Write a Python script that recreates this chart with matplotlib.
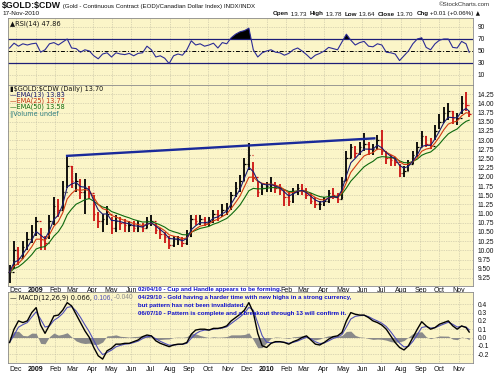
import matplotlib
matplotlib.use("Agg")
import matplotlib.pyplot as plt
import pandas as pd
import numpy as np

# ---------------- data (weekly readings from the chart) ----------------
week_dates = list(pd.date_range("2008-11-21", periods=104, freq="7D")) + [pd.Timestamp("2010-11-17")]

close_vals = [9.40, 10.00, 9.80, 10.10, 10.30, 10.50, 10.80, 10.30, 10.20, 10.80,
              11.20, 11.10, 11.60, 12.30, 11.90, 11.90, 11.60, 11.70, 11.55, 11.00,
              10.80, 10.85, 11.00, 10.60, 10.80, 10.75, 10.70, 10.70, 10.60, 10.65,
              10.60, 10.80, 10.80, 10.55, 10.45, 10.35, 10.15, 10.30, 10.30, 10.20,
              10.40, 10.85, 10.80, 10.85, 10.75, 10.80, 11.00, 10.95, 11.10, 11.15,
              11.50, 11.70, 11.90, 12.35, 12.60, 12.00, 11.60, 11.70, 11.75, 11.80,
              11.70, 11.65, 11.45, 11.35, 11.60, 11.70, 11.65, 11.50, 11.35, 11.25,
              11.25, 11.35, 11.55, 11.50, 11.40, 11.90, 12.50, 12.80, 12.65, 12.80,
              12.90, 12.75, 12.75, 13.00, 12.70, 12.50, 12.45, 12.40, 12.10, 12.15,
              12.35, 12.60, 12.80, 13.10, 12.90, 12.85, 13.25, 13.50, 13.75, 13.80,
              13.60, 13.60, 14.00, 13.95, 13.70]

high_vals = [9.60, 10.25, 10.10, 10.25, 10.50, 10.70, 10.90, 10.60, 10.40, 10.95,
             11.45, 11.40, 11.90, 12.55, 12.30, 12.10, 11.95, 11.95, 11.75, 11.50,
             11.05, 11.00, 11.20, 10.90, 10.95, 10.90, 10.85, 10.80, 10.80, 10.80,
             10.75, 10.90, 10.95, 10.75, 10.60, 10.50, 10.40, 10.40, 10.40, 10.35,
             10.55, 10.95, 10.95, 10.95, 10.90, 10.90, 11.10, 11.10, 11.25, 11.30,
             11.60, 11.85, 12.05, 12.50, 12.92, 12.40, 11.90, 11.80, 11.85, 12.00,
             11.85, 11.80, 11.65, 11.60, 11.70, 11.80, 11.80, 11.70, 11.55, 11.45,
             11.35, 11.45, 11.65, 11.70, 11.55, 12.00, 12.70, 12.90, 12.85, 12.95,
             13.20, 12.95, 12.90, 13.15, 13.27, 12.70, 12.60, 12.55, 12.35, 12.30,
             12.45, 12.70, 12.95, 13.25, 13.10, 13.05, 13.40, 13.70, 13.90, 14.00,
             13.80, 13.75, 14.20, 14.30, 13.78]

low_vals = [9.10, 9.50, 9.60, 9.80, 10.00, 10.20, 10.40, 10.00, 10.00, 10.30,
            10.70, 10.90, 11.10, 11.70, 11.70, 11.60, 11.40, 11.00, 11.40, 10.80,
            10.60, 10.50, 10.70, 10.45, 10.50, 10.55, 10.50, 10.50, 10.50, 10.50,
            10.50, 10.60, 10.65, 10.45, 10.30, 10.20, 10.05, 10.10, 10.15, 10.10,
            10.15, 10.35, 10.70, 10.70, 10.65, 10.65, 10.75, 10.80, 10.90, 10.95,
            11.10, 11.45, 11.60, 11.90, 12.20, 11.85, 11.45, 11.50, 11.60, 11.60,
            11.55, 11.50, 11.20, 11.20, 11.30, 11.50, 11.50, 11.40, 11.25, 11.15,
            11.10, 11.20, 11.30, 11.40, 11.30, 11.40, 11.90, 12.50, 12.50, 12.60,
            12.70, 12.60, 12.60, 12.75, 12.60, 12.35, 12.30, 12.30, 12.00, 12.00,
            12.15, 12.35, 12.55, 12.80, 12.80, 12.75, 13.00, 13.30, 13.50, 13.55,
            13.45, 13.40, 13.70, 13.80, 13.64]

rsi_vals = [55, 63, 58, 62, 60, 62, 63, 48, 52, 62,
            64, 60, 65, 70, 55, 54, 48, 52, 50, 42,
            37, 45, 47, 40, 47, 45, 44, 46, 42, 46,
            47, 58, 52, 40, 42, 38, 29, 42, 45, 43,
            52, 67, 60, 62, 58, 60, 63, 55, 64, 62,
            72, 78, 82, 84, 88, 52, 40, 47, 50, 52,
            48, 47, 43, 46, 52, 55, 50, 44, 37, 43,
            46, 50, 56, 54, 52, 65, 78, 68, 60, 64,
            66, 58, 57, 62, 60, 48, 47, 45, 34, 42,
            50, 62, 70, 72, 56, 52, 62, 68, 70, 70,
            56, 55, 66, 62, 47.86]

macd_vals = [-0.06, 0.10, 0.20, 0.18, 0.20, 0.30, 0.36, 0.15, 0.05, 0.15,
             0.26, 0.27, 0.33, 0.42, 0.38, 0.28, 0.18, 0.08, 0.00, -0.12,
             -0.22, -0.26, -0.16, -0.13, -0.08, -0.08, -0.07, -0.07, -0.05, -0.03,
             0.01, 0.03, 0.02, -0.04, -0.07, -0.09, -0.11, -0.09, -0.08, -0.08,
             -0.06, 0.04, 0.09, 0.10, 0.10, 0.09, 0.11, 0.11, 0.12, 0.14,
             0.20, 0.24, 0.28, 0.33, 0.42, 0.30, 0.05, -0.10, -0.12, -0.07,
             -0.05, -0.05, -0.06, -0.08, -0.05, -0.03, 0.00, 0.02, -0.03, -0.08,
             -0.09, -0.06, -0.02, 0.01, 0.02, 0.06, 0.20, 0.30, 0.28, 0.27,
             0.27, 0.24, 0.20, 0.18, 0.15, 0.10, 0.02, -0.06, -0.12, -0.15,
             -0.10, 0.00, 0.10, 0.19, 0.14, 0.10, 0.12, 0.16, 0.18, 0.20,
             0.14, 0.10, 0.14, 0.12, 0.066]

trend_dates = [pd.Timestamp("2009-02-18"), pd.Timestamp("2010-06-22")]
trend_vals = [12.57, 13.05]

month_ticks = pd.date_range("2008-12-01", periods=24, freq="MS")
month_labels = ["Dec", "2009", "Feb", "Mar", "Apr", "May", "Jun", "Jul", "Aug", "Sep", "Oct", "Nov",
                "Dec", "2010", "Feb", "Mar", "Apr", "May", "Jun", "Jul", "Aug", "Sep", "Oct", "Nov"]
# labels of the price panel that sit under the first note line are hidden in the reference
hidden_price_labels = set(range(7, 14))

rsi_ticks = [10, 30, 50, 70, 90]
price_ticks = [9.25, 9.50, 9.75, 10.00, 10.25, 10.50, 10.75, 11.00, 11.25, 11.50, 11.75, 12.00,
               12.25, 12.50, 12.75, 13.00, 13.25, 13.50, 13.75, 14.00, 14.25]
macd_ticks = [-0.2, -0.1, 0.0, 0.1, 0.2, 0.3, 0.4]

notes = ["02/04/10 - Cup and Handle appears to be forming.",
         "04/29/10 - Gold having a harder time with new highs in a strong currency,",
         "but pattern has not been invalidated.",
         "06/07/10 - Pattern is complete and a breakout through 13 will confirm it."]

# ---------------- derived indicators ----------------
close_s = pd.Series(close_vals)
ema13 = close_s.ewm(span=1 + 12 / 5, adjust=False).mean()
ema25 = close_s.ewm(span=1 + 24 / 5, adjust=False).mean()
ema50 = close_s.ewm(span=1 + 49 / 5, adjust=False).mean()
macd_s = pd.Series(macd_vals)
signal = macd_s.ewm(span=1 + 8 / 5, adjust=False).mean()
hist = macd_s - signal

# ---------------- styling ----------------
NARROW = ["Liberation Sans Narrow", "Liberation Sans", "DejaVu Sans"]
plt.rcParams["font.family"] = NARROW
BG = "#FBF5C8"
GRID = "#BDB9A0"
INK = "#111111"
W, H = 500, 374

fig = plt.figure(figsize=(W / 100, H / 100), dpi=100)
fig.patch.set_facecolor("white")


def rect(l, t, r, b):
    return [l / W, 1 - b / H, (r - l) / W, (b - t) / H]


xlim = (pd.Timestamp("2008-11-18 12:00"), pd.Timestamp("2010-11-23"))


def style(ax, yt, fmt):
    ax.set_facecolor(BG)
    ax.set_xlim(*xlim)
    ax.set_xticks(month_ticks)
    ax.set_yticks(yt)
    ax.set_yticklabels([fmt % v for v in yt])
    ax.yaxis.tick_right()
    ax.tick_params(axis="y", length=0, pad=3.5, labelsize=4.8, colors=INK)
    ax.tick_params(axis="x", length=0)
    ax.grid(True, color=GRID, linestyle=(0, (1, 1.5)), linewidth=0.5)
    ax.set_axisbelow(True)
    for s in ax.spines.values():
        s.set_color("#8A8A8A")
        s.set_linewidth(0.6)


def xlabels(ax, pad, hidden=()):
    labels = ["" if i in hidden else t for i, t in enumerate(month_labels)]
    ax.set_xticklabels(labels, fontsize=5.0)
    for lbl, txt in zip(ax.get_xticklabels(), labels):
        if txt.isdigit():
            lbl.set_fontweight("bold")
    ax.tick_params(axis="x", pad=pad, colors=INK)


# ---- RSI panel ----
ax_rsi = fig.add_axes(rect(8, 18, 473, 85))
style(ax_rsi, rsi_ticks, "%d")
ax_rsi.set_ylim(-6.7, 105)
ax_rsi.tick_params(axis="x", labelbottom=False)
rsi_arr = np.array(rsi_vals, dtype=float)
ax_rsi.axhline(70, color="#1E1E78", lw=0.9)
ax_rsi.axhline(30, color="#1E1E78", lw=0.9)
ax_rsi.axhline(50, color="black", lw=0.7, ls=(0, (4, 2, 1, 2)))
ax_rsi.fill_between(week_dates, rsi_arr, 70, where=rsi_arr > 70, interpolate=True, color="black", lw=0)
ax_rsi.fill_between(week_dates, rsi_arr, 30, where=rsi_arr < 30, interpolate=True, color="black", lw=0)
ax_rsi.plot(week_dates, rsi_arr, color="#2B2B95", lw=0.8)
ax_rsi.text(0.004, 0.97, "\u25B2RSI(14) 47.86", transform=ax_rsi.transAxes, fontsize=4.8,
            va="top", ha="left", family=["Liberation Sans Narrow", "DejaVu Sans"], color=INK)

# ---- Price panel ----
ax_px = fig.add_axes(rect(8, 85, 473, 286))
style(ax_px, price_ticks, "%.2f")
ax_px.set_ylim(9.03, 14.5)
xlabels(ax_px, 1.0, hidden_price_labels)
prev = [close_vals[0]] + close_vals[:-1]
bar_cols = ["black" if c >= p else "#CC1111" for c, p in zip(close_vals, prev)]
ax_px.vlines(week_dates, low_vals, high_vals, colors=bar_cols, lw=1.3, zorder=3)
ax_px.hlines(prev, [d - pd.Timedelta(days=2.4) for d in week_dates], week_dates, colors=bar_cols, lw=0.9, zorder=3)
ax_px.hlines(close_vals, week_dates, [d + pd.Timedelta(days=2.4) for d in week_dates], colors=bar_cols, lw=0.9, zorder=3)
ax_px.plot(week_dates, ema50, color="#0E6A0E", lw=0.8, zorder=4)
ax_px.plot(week_dates, ema25, color="#D23A10", lw=0.8, zorder=4)
ax_px.plot(week_dates, ema13, color="#1A1A70", lw=0.8, zorder=4)
ax_px.plot(trend_dates, trend_vals, color="#1A2A9A", lw=1.7, zorder=5, solid_capstyle="butt")

leg = [("\u25AE\\$GOLD:\\$CDW (Daily) 13.70", INK),
       ("\u2014EMA(13) 13.83", "#1A1A70"),
       ("\u2014EMA(25) 13.77", "#C0300E"),
       ("\u2014EMA(50) 13.58", "#0E6A0E"),
       ("\u2225Volume undef", "#2E7E80")]
for k, (txt, col) in enumerate(leg):
    ax_px.text(0.004, 0.997 - k * 0.0305, txt, transform=ax_px.transAxes, fontsize=4.7,
               va="top", ha="left", color=col, family=["Liberation Sans Narrow", "DejaVu Sans"])

# ---- MACD panel ----
ax_m = fig.add_axes(rect(8, 292, 473, 363))
style(ax_m, macd_ticks, "%.1f")
ax_m.set_ylim(-0.307, 0.548)
xlabels(ax_m, 2.0)
ax_m.fill_between(week_dates, hist.values, 0, color="#8A8A8A", lw=0, zorder=2)
ax_m.plot(week_dates, signal.values, color="#5050B8", lw=0.8, zorder=3)
ax_m.plot(week_dates, macd_vals, color="black", lw=1.0, zorder=4)
t1 = ax_m.text(0.004, 0.97, "\u2014 MACD(12,26,9) 0.066,", transform=ax_m.transAxes, fontsize=4.8,
               va="top", ha="left", color=INK, family=["Liberation Sans Narrow", "DejaVu Sans"])
t2 = ax_m.annotate(" 0.106,", xy=(1, 0), xycoords=t1, va="bottom", ha="left", fontsize=4.8, color="#5050B8")
ax_m.annotate(" -0.040", xy=(1, 0), xycoords=t2, va="bottom", ha="left", fontsize=4.8, color="#8A8A8A")

# ---- Notes ----
for k, line in enumerate(notes):
    fig.text(138 / W, 1 - (289.0 + k * 8.2) / H, line, fontsize=4.4, fontweight="bold",
             color="#1010CC", va="center", ha="left", zorder=10)

# ---- Header ----
title = fig.text(2 / W, 1 - 5.5 / H, "\\$GOLD:\\$CDW", fontsize=6.3, fontweight="bold",
                 va="center", ha="left", color=INK)
ax_rsi.annotate(" (Gold - Continuous Contract (EOD)/Canadian Dollar Index) INDX/INDX", xy=(1, 0.1),
                xycoords=title, va="bottom", ha="left", fontsize=4.4, color=INK, annotation_clip=False)
fig.text(2 / W, 1 - 13.5 / H, "17-Nov-2010", fontsize=4.6, va="center", ha="left", color=INK)
fig.text(490 / W, 1 - 4.5 / H, "\u00A9StockCharts.com", fontsize=4.4, va="center", ha="right", color="#333333")

parts = [(" 13.73  ", False), ("High", True), (" 13.78  ", False), ("Low", True),
         (" 13.64  ", False), ("Close", True), (" 13.70  ", False), ("Chg", True), (" +0.01 (+0.06%)", False)]
anchor = fig.text(273 / W, 1 - 14 / H, "Open", fontsize=4.5, fontweight="bold", va="center", ha="left", color=INK)
for txt, bold in parts:
    anchor = ax_rsi.annotate(txt, xy=(1, 0), xycoords=anchor, va="bottom", ha="left", fontsize=4.5,
                             fontweight="bold" if bold else "normal", color=INK, annotation_clip=False)
ax_rsi.annotate(" \u25B2", xy=(1, 0), xycoords=anchor, va="bottom", ha="left", fontsize=4.0,
                color=INK, family=["DejaVu Sans"], annotation_clip=False)

fig.savefig("out.png", dpi=100, facecolor="white")
